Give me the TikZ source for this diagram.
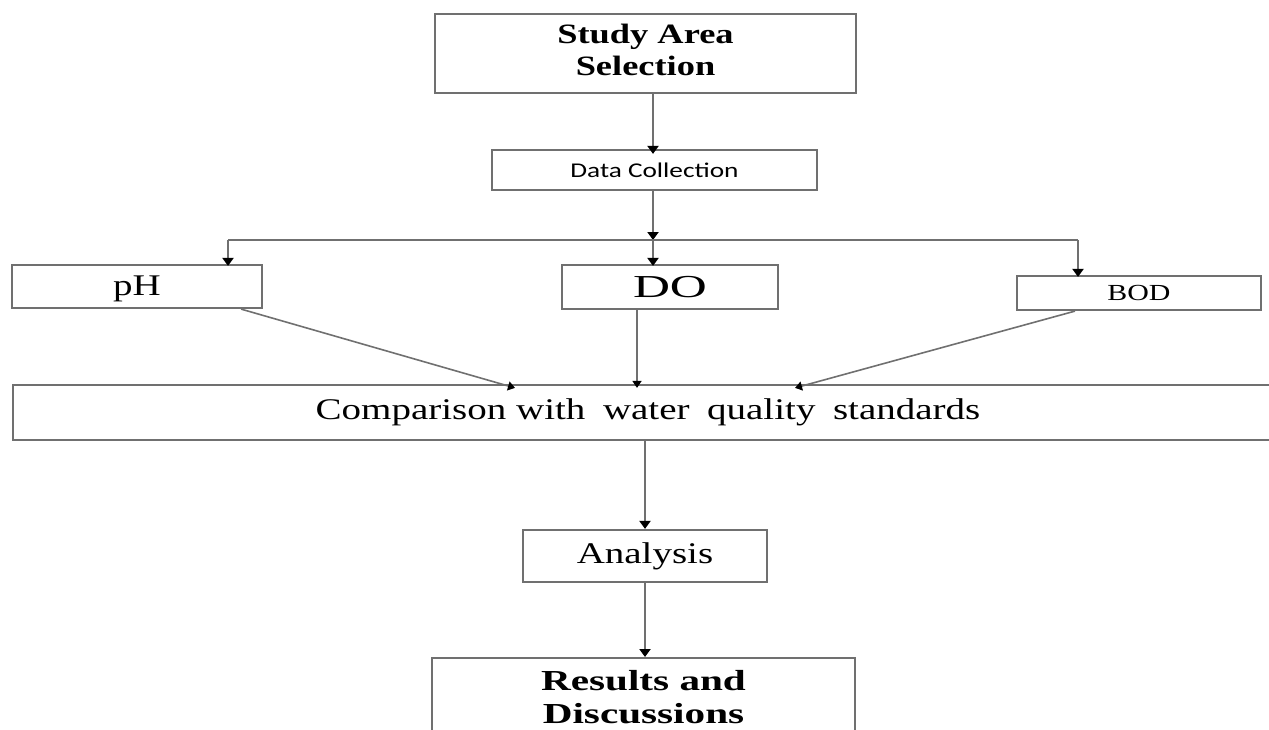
\documentclass[tikz,border=0pt]{standalone}
\usepackage{fontspec}
\usepackage{graphicx}
\setmainfont{Liberation Serif}
\newfontfamily\calib{Carlito}
\usetikzlibrary{arrows.meta}
\definecolor{edge}{RGB}{112,112,112}
\newcommand\hs[2][1.3]{\scalebox{#1}[1]{#2}}
\begin{document}
\begin{tikzpicture}[x=1pt,y=-1pt,
  box/.style={draw=edge,line width=2.2pt,fill=white,inner sep=0pt,minimum width=#1},
  arr/.style={draw=edge,line width=2.4pt,-{Triangle[color=black,width=11pt,length=8pt]}},
  ln/.style={draw=edge,line width=1.6pt,-{Triangle[color=black,width=9pt,length=7pt]}},
  txt/.style={font=\fontsize{30}{34}\selectfont}]
\useasboundingbox (0,0) rectangle (1269,729);
\node[box=421pt,minimum height=79pt,font=\fontsize{28}{32}\selectfont\bfseries] (study) at (645.5,53.5)
  {\hs{\begin{tabular}{@{}c@{}}Study Area\\Selection\end{tabular}}};
\node[box=325pt,minimum height=40pt,font=\calib\fontsize{21}{24}\selectfont] (data) at (654.5,170) {\hs{Data Collection}};
\node[box=250pt,minimum height=43pt,txt,text depth=2pt] (ph) at (137,286.5) {\hs{pH}};
\node[box=216pt,minimum height=44pt,font=\fontsize{32}{36}\selectfont] (do) at (670,287) {\hs[1.6]{DO}};
\node[box=244pt,minimum height=34pt,font=\fontsize{23}{26}\selectfont] (bod) at (1139,293) {\hs{BOD}};
\node[box=1270pt,minimum height=55pt,txt] (comp) at (648,412.5)
  {\hs{Comparison with\hspace{6pt} water\hspace{6pt} quality\hspace{6pt} standards}};
\node[box=244pt,minimum height=52pt,txt] (anal) at (645,556) {\hs{Analysis}};
\node[box=423pt,inner ysep=9pt,font=\fontsize{29}{33}\selectfont\bfseries,anchor=north] (res) at (643.5,657)
  {\hs[1.42]{\begin{tabular}{@{}c@{}}Results and\\Discussions\end{tabular}}};
\coordinate (bl) at (228,240);
\coordinate (bm) at (653,240);
\coordinate (br) at (1078,240);
\draw[arr] (study.south -| bm) -- ([yshift=-5pt]data.north -| bm);
\draw[arr] (data.south -| bm) -- (bm);
\draw[draw=edge,line width=2pt] (bl) -- (br);
\draw[arr] (bl) -- ([yshift=-2pt]bl |- ph.north);
\draw[arr] (bm) -- ([yshift=-2pt]bm |- do.north);
\draw[arr] (br) -- ([yshift=-2pt]br |- bod.north);
\draw[ln] ([xshift=-22pt]ph.south east) -- ([xshift=-133pt,yshift=-4pt]comp.north);
\draw[ln] ([xshift=-33pt]do.south) -- ([xshift=-33pt,yshift=-4pt]do.south |- comp.north);
\draw[ln] ([xshift=-64pt]bod.south) -- ([xshift=147pt,yshift=-4pt]comp.north);
\draw[arr] (comp.south -| anal.north) -- (anal.north);
\draw[arr] (anal.south) -- (anal.south |- res.north);
\end{tikzpicture}
\end{document}
